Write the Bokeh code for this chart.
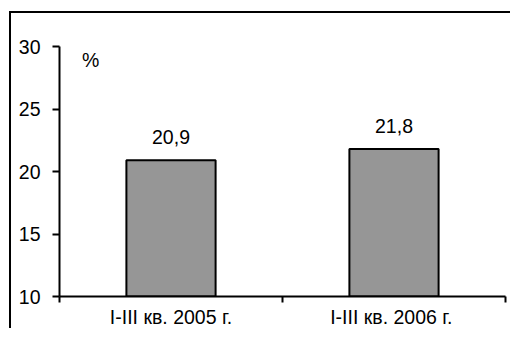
from bokeh.plotting import figure
from bokeh.models import Range1d, FixedTicker, Label, ColumnDataSource
from bokeh.core.properties import value
from bokeh.embed import file_html
from bokeh.resources import INLINE

categories = ["I-III кв. 2005 г.", "I-III  кв. 2006 г."]
values = [20.9, 21.8]
y_ticks = [10, 15, 20, 25, 30]
unit_label = "%"

FONT = "Liberation Sans"
FS = "19.5px"

xs = [i + 0.5 for i in range(len(categories))]
labels = [f"{v:.1f}".replace(".", ",") for v in values]
src = ColumnDataSource(dict(x=xs, top=values, label=labels))

p = figure(width=501, height=317, output_backend="svg", toolbar_location=None,
           x_range=Range1d(0, len(categories)), y_range=Range1d(y_ticks[0], y_ticks[-1]),
           min_border_left=48, min_border_right=7, min_border_top=33, min_border_bottom=34)
p.styles = {"margin-left": "9px", "margin-top": "11px",
            "border-left": "2px solid black", "border-top": "2px solid black"}
p.outline_line_color = None
p.xgrid.visible = False
p.ygrid.visible = False

p.vbar(x="x", top="top", bottom=y_ticks[0], width=0.4, source=src,
       fill_color="#969696", line_color="black", line_width=2)
p.text(x="x", y="top", text="label", source=src, text_align="center",
       text_baseline="middle", y_offset=-23, text_font=value(FONT),
       text_font_size=FS, text_color="black")

p.add_layout(Label(x=0.14, y=28.96, text=unit_label, text_align="center",
                   text_baseline="middle", text_font=FONT, text_font_size=FS,
                   text_color="black"))

# y axis
ya = p.yaxis[0]
ya.ticker = FixedTicker(ticks=y_ticks)
ya.axis_line_color = "black"
ya.axis_line_width = 2
ya.major_tick_line_color = "black"
ya.major_tick_line_width = 2
ya.major_tick_out = 7
ya.major_tick_in = 0
ya.minor_tick_line_color = None
ya.major_label_standoff = 12
ya.major_label_text_font = FONT
ya.major_label_text_font_size = FS
ya.major_label_text_color = "black"

# x axis
xa = p.xaxis[0]
xa.ticker = FixedTicker(ticks=xs, minor_ticks=list(range(len(categories) + 1)))
xa.major_label_overrides = {x: c for x, c in zip(xs, categories)}
xa.axis_line_color = "black"
xa.axis_line_width = 2
xa.major_tick_line_color = None
xa.major_tick_out = 0
xa.major_tick_in = 0
xa.minor_tick_line_color = "black"
xa.minor_tick_line_width = 2
xa.minor_tick_out = 6
xa.minor_tick_in = 0
xa.major_label_standoff = 3
xa.major_label_text_font = FONT
xa.major_label_text_font_size = FS
xa.major_label_text_color = "black"

open("out.html", "w").write(file_html(p, INLINE))
